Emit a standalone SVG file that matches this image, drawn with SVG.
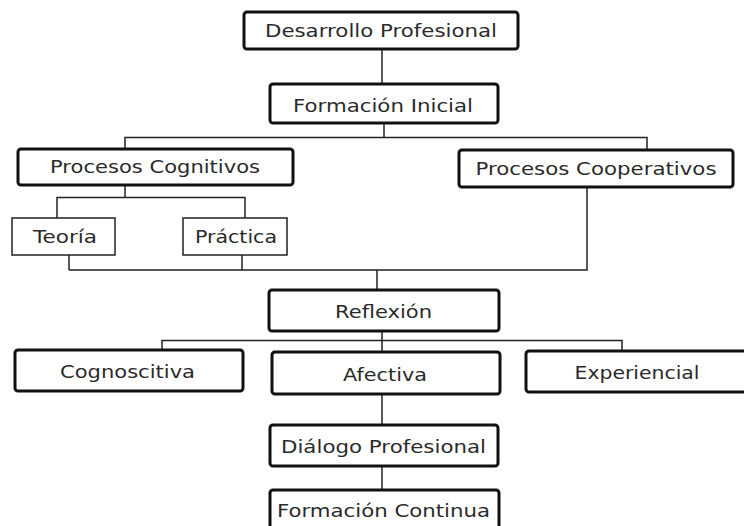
<svg xmlns="http://www.w3.org/2000/svg" width="744" height="526" viewBox="0 0 744 526">
<style>
.bx{fill:#fff;stroke:#111;stroke-width:3}
.bt{fill:#fff;stroke:#222;stroke-width:1.5}
.t{font-family:"DejaVu Sans",Verdana,sans-serif;font-size:17px;fill:#2a2a2a;text-anchor:middle}
.c{fill:none;stroke:#222;stroke-width:1.5}
</style>
<rect width="744" height="526" fill="#fff"/>
<g id="connectors">
<path class="c" d="M382 49V84"/>
<path class="c" d="M384 123V137.5M125 149V137.5H647V150"/>
<path class="c" d="M125 185V197.5M57 218V197.5H245V218"/>
<path class="c" d="M69 255V270M242 255V270M587 187V270H69M377 270V290"/>
<path class="c" d="M382 331V352M162 350V340.5H622V352"/>
<path class="c" d="M382 394V425M382 466V490"/>
</g>
<g id="n1"><rect class="bx" x="244" y="12" width="274" height="37" rx="3"/><text class="t" x="381" y="37" textLength="232" lengthAdjust="spacingAndGlyphs">Desarrollo Profesional</text></g>
<g id="n2"><rect class="bx" x="270" y="84" width="228" height="39" rx="3"/><text class="t" x="383" y="112" textLength="180" lengthAdjust="spacingAndGlyphs">Formación Inicial</text></g>
<g id="n3"><rect class="bx" x="18" y="149" width="275" height="36" rx="3"/><text class="t" x="155" y="173" textLength="210" lengthAdjust="spacingAndGlyphs">Procesos Cognitivos</text></g>
<g id="n4"><rect class="bx" x="459" y="150" width="274" height="37" rx="3"/><text class="t" x="596" y="175" textLength="241" lengthAdjust="spacingAndGlyphs">Procesos Cooperativos</text></g>
<g id="n5"><rect class="bt" x="12" y="218" width="103" height="37"/><text class="t" x="65" y="243" textLength="64" lengthAdjust="spacingAndGlyphs">Teoría</text></g>
<g id="n6"><rect class="bt" x="183" y="218" width="104" height="37"/><text class="t" x="236" y="243" textLength="82" lengthAdjust="spacingAndGlyphs">Práctica</text></g>
<g id="n7"><rect class="bx" x="269" y="290" width="230" height="41" rx="3"/><text class="t" x="383.5" y="318" textLength="97" lengthAdjust="spacingAndGlyphs">Reflexión</text></g>
<g id="n8"><rect class="bx" x="15" y="350" width="228" height="41" rx="3"/><text class="t" x="127.5" y="378" textLength="135" lengthAdjust="spacingAndGlyphs">Cognoscitiva</text></g>
<g id="n9"><rect class="bx" x="272" y="352" width="228" height="42" rx="3"/><text class="t" x="385" y="381" textLength="84" lengthAdjust="spacingAndGlyphs">Afectiva</text></g>
<g id="n10"><rect class="bx" x="526" y="351" width="224" height="41" rx="3"/><text class="t" x="637" y="379" textLength="125" lengthAdjust="spacingAndGlyphs">Experiencial</text></g>
<g id="n11"><rect class="bx" x="270" y="425" width="228" height="41" rx="3"/><text class="t" x="383.5" y="453" textLength="205" lengthAdjust="spacingAndGlyphs">Diálogo Profesional</text></g>
<g id="n12"><rect class="bx" x="270" y="490" width="229" height="45" rx="3"/><text class="t" x="383.5" y="517" textLength="213" lengthAdjust="spacingAndGlyphs">Formación Continua</text></g>
</svg>
